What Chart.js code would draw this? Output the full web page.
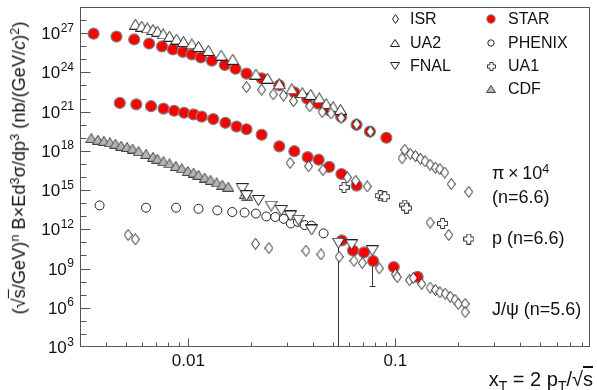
<!DOCTYPE html>
<html>
<head>
<meta charset="utf-8">
<script src="https://cdn.jsdelivr.net/npm/chart.js@4.4.0/dist/chart.umd.min.js"></script>
<style>
  body { margin: 0; background: #fff; }
  #wrap { position: relative; width: 597px; height: 390px; font-family: 'Liberation Sans', Arial, sans-serif; color: #111; }
  #chart { position: absolute; left: 0; top: 0; }
  .t { position: absolute; white-space: nowrap; line-height: 1; transform: translateY(-50%); }
  .leg { font-size: 16px; }
  .note { font-size: 18px; }
  sup { font-size: 0.7em; vertical-align: 0; position: relative; top: -0.5em; }
  sub { font-size: 0.7em; vertical-align: 0; position: relative; top: 0.35em; }
  .ov { text-decoration: overline; }
  #ytitle { position: absolute; left: 19px; top: 168px; font-size: 18.2px; white-space: nowrap; line-height: 1;
            transform: translate(-50%, -50%) rotate(-90deg); }
  #xtitle { position: absolute; right: 4px; top: 369px; font-size: 20px; white-space: nowrap; line-height: 1; }
</style>
</head>
<body>
<div id="wrap">
  <canvas id="chart" width="597" height="390"></canvas>

  <div id="ytitle">(&radic;<span class="ov">s</span>/GeV)<sup>n</sup> B&times;Ed<sup>3</sup>&sigma;/dp<sup>3</sup> (nb/(GeV/<i>c</i>)<sup>2</sup>)</div>
  <div id="xtitle">x<sub>T</sub> = 2 p<sub>T</sub>/&radic;<span class="ov">s</span></div>

  <div class="t leg" style="left:410px; top:19px;">ISR</div>
  <div class="t leg" style="left:410px; top:43px;">UA2</div>
  <div class="t leg" style="left:410px; top:66px;">FNAL</div>
  <div class="t leg" style="left:508px; top:19px;">STAR</div>
  <div class="t leg" style="left:508px; top:43px;">PHENIX</div>
  <div class="t leg" style="left:508px; top:66px;">UA1</div>
  <div class="t leg" style="left:508px; top:89px;">CDF</div>

  <div class="t note" style="left:492px; top:173px;">&pi;&thinsp;&times;&thinsp;10<sup>4</sup></div>
  <div class="t note" style="left:492px; top:197px;">(n=6.6)</div>
  <div class="t note" style="left:492px; top:238px;">p (n=6.6)</div>
  <div class="t note" style="left:492px; top:309px;">J/&psi; (n=5.6)</div>
</div>

<script>
// ---- data ----

// pi x 10^4 (n=6.6)
const starPiX = [0.00349, 0.00450, 0.00548, 0.00647, 0.00747, 0.00843, 0.00942, 0.0104, 0.0115, 0.0130, 0.0150, 0.0169, 0.0191, 0.0226, 0.0275, 0.0325, 0.0375, 0.0424, 0.0479, 0.0547, 0.0649, 0.0753, 0.0904];
const starPiY = [9.1e26, 5.5e26, 3.3e26, 1.6e26, 9.6e25, 5.7e25, 3.7e25, 2.4e25, 1.4e25, 7.8e24, 3.7e24, 1.9e24, 8.1e23, 3.5e23, 1.0e23, 3.0e22, 9.8e21, 4.1e21, 1.3e21, 4.1e20, 9.8e19, 3.0e19, 1.0e19];

const ua2PiX = [0.00555, 0.00596, 0.00634, 0.00675, 0.00710, 0.00756, 0.00811, 0.00878, 0.00948, 0.0104, 0.0112, 0.0125, 0.0144, 0.0164, 0.0212, 0.0241, 0.0275, 0.0316, 0.0355, 0.0390, 0.0429, 0.0463, 0.0500, 0.0543];
const ua2PiY = [4.8e27, 3.4e27, 2.5e27, 1.9e27, 1.4e27, 8.7e26, 5.8e26, 3.5e26, 2.3e26, 1.5e26, 9.6e25, 4.8e25, 2.1e25, 1.0e25, 7.4e23, 3.6e23, 1.3e23, 5.5e22, 2.8e22, 2.1e22, 1.1e22, 4.1e21, 2.4e21, 1.5e21];

const isrPiX = [0.0191, 0.0226, 0.0257, 0.0288, 0.0322, 0.0386, 0.0443, 0.0489, 0.0547, 0.0649, 0.0757, 0.1076, 0.111, 0.118, 0.125, 0.132, 0.139, 0.147, 0.156, 0.164, 0.173, 0.186, 0.226];
const isrPiY = [7.4e22, 4.7e22, 2.1e22, 1.7e22, 6.3e21, 2.6e21, 9.3e20, 7.2e20, 3.3e20, 1.07e20, 3.0e19, 2.7e17, 1.2e18, 5.9e17, 4.0e17, 2.5e17, 1.6e17, 8.7e16, 5.2e16, 4.0e16, 2.2e16, 2.9e15, 7.4e14];

// protons (n=6.6)
const starPX = [0.00467, 0.00561, 0.00661, 0.00759, 0.00854, 0.00954, 0.0106, 0.0116, 0.0132, 0.0151, 0.0171, 0.0191, 0.0226, 0.0275, 0.0325, 0.0377, 0.0426, 0.0479, 0.0549, 0.0650];
const starPY = [4.6e21, 3.6e21, 2.6e21, 1.7e21, 1.16e21, 8.2e20, 6.1e20, 4.1e20, 2.7e20, 1.4e20, 7.2e19, 4.5e19, 1.7e19, 2.2e18, 9.4e17, 3.3e17, 2.1e17, 5.9e16, 1.7e16, 2.2e15];

const isrPX = [0.0310, 0.0381, 0.0447, 0.0586, 0.0643, 0.0731, 0.147, 0.181];
const isrPY = [1.2e17, 6.7e16, 3.4e16, 9.2e15, 5.1e15, 1.9e15, 3.3e12, 3.7e11];

const ua1PX = [0.0565, 0.0845, 0.0888, 0.111, 0.113, 0.169, 0.226];
const ua1PY = [1.6e15, 3.7e14, 3.1e14, 7.1e13, 4.2e13, 2.8e12, 1.8e11];

// J/psi (n=5.6)
const cdfJX = [0.00340, 0.00366, 0.00391, 0.00418, 0.00445, 0.00474, 0.00506, 0.00538, 0.00575, 0.00625, 0.00675, 0.00710, 0.00759, 0.00811, 0.00870, 0.00930, 0.00994, 0.0106, 0.0112, 0.0120, 0.0128, 0.0137, 0.0146, 0.0156, 0.0187, 0.0193];
const cdfJY = [9.5e18, 7.1e18, 5.9e18, 4.5e18, 3.5e18, 2.5e18, 2.0e18, 1.5e18, 9.4e17, 5.9e17, 3.5e17, 2.5e17, 1.6e17, 1.1e17, 7.0e16, 4.6e16, 2.9e16, 2.2e16, 1.5e16, 9.1e15, 6.1e15, 3.8e15, 2.6e15, 1.8e15, 5.0e14, 3.4e14];

const phenixJX = [0.00373, 0.00625, 0.00873, 0.0112, 0.0138, 0.0163, 0.0187, 0.0212, 0.0238, 0.0263, 0.0289, 0.0313, 0.0338, 0.0365, 0.0393, 0.0450];
const phenixJY = [6.7e13, 4.5e13, 4.5e13, 3.7e13, 2.8e13, 2.1e13, 1.9e13, 1.6e13, 9.6e12, 8.8e12, 6.3e12, 2.8e12, 3.7e12, 2.1e12, 1.9e12, 4.9e11];

const fnalJX = [0.0182, 0.0191, 0.0218, 0.0251, 0.0281, 0.0311, 0.0340, 0.0394, 0.0531, 0.0615, 0.0773];
const fnalJY = [1.3e15, 3.7e14, 1.6e14, 6.0e13, 2.8e13, 1.05e13, 5.0e12, 8.9e11, 8.7e10, 6.5e10, 2.3e10];
const fnalJErrLow = [null, null, null, null, null, null, null, null, 1e2, null, 4.7e7];

const isrJX = [0.00512, 0.00555, 0.0211, 0.0245, 0.0370, 0.0437, 0.0535, 0.0631, 0.0692, 0.0836, 0.100, 0.102, 0.117, 0.122, 0.134, 0.147, 0.156, 0.164, 0.174, 0.184, 0.194, 0.201, 0.217, 0.217];
const isrJY = [3.7e11, 1.7e11, 7.8e10, 3.6e10, 2.3e10, 1.2e10, 7.9e9, 3.9e9, 2.7e9, 1.02e9, 3.6e8, 2.2e8, 1.3e8, 1.9e8, 6.6e7, 3.5e7, 2.3e7, 1.5e7, 1.2e7, 6.9e6, 4.1e6, 2.0e6, 2.0e6, 4.6e5];

const starJX = [0.0551, 0.0624, 0.0705, 0.0781, 0.0982, 0.128];
const starJY = [1.4e11, 2.4e10, 1.7e10, 3.7e9, 1.3e9, 2.3e8];

// axes
const xMin = 0.003, xMax = 0.87;
const yMinExp = 3, yMaxExp = 29;
const xTickLabels = [[0.01, '0.01'], [0.1, '0.1']];
const yLabelExps = [3, 6, 9, 12, 15, 18, 21, 24, 27];

// ---- marker images ----
function mk(w, h, fn) {
    const c = document.createElement('canvas');
    c.width = w; c.height = h;
    const g = c.getContext('2d');
    g.lineWidth = 1;
    fn(g, w, h);
    return c;
}
function poly(g, pts, fill, stroke) {
    g.beginPath();
    pts.forEach((p, i) => i ? g.lineTo(p[0], p[1]) : g.moveTo(p[0], p[1]));
    g.closePath();
    g.fillStyle = fill; g.fill();
    g.strokeStyle = stroke; g.stroke();
}
function diamondMark(w, h) {
    return mk(w, h, g => poly(g, [[w / 2, 0.5], [w - 0.5, h / 2], [w / 2, h - 0.5], [0.5, h / 2]], '#fff', '#222'));
}
function triMark(w, h, up, fill, stroke) {
    return mk(w, h, g => poly(g, up
        ? [[w / 2, 0.5], [w - 0.5, h - 0.5], [0.5, h - 0.5]]
        : [[0.5, 0.5], [w - 0.5, 0.5], [w / 2, h - 0.5]], fill, stroke));
}
function plusMark(s, a) {
    const c = s / 2, e = 0.5, f = s - 0.5;
    return mk(s, s, g => poly(g, [[c - a, e], [c + a, e], [c + a, c - a], [f, c - a], [f, c + a], [c + a, c + a],
        [c + a, f], [c - a, f], [c - a, c + a], [e, c + a], [e, c - a], [c - a, c - a]], '#fff', '#333'));
}

const mDiamond = diamondMark(9, 12);
const mUp = triMark(13, 11, true, '#fff', '#222');
const mDown = triMark(13, 11, false, '#fff', '#222');
const mCdf = triMark(12, 10, true, '#b4b4b4', '#444');
const mPlus = plusMark(11, 2);

const lDiamond = diamondMark(7, 10);
const lUp = triMark(10, 8, true, '#fff', '#222');
const lDown = triMark(10, 8, false, '#fff', '#222');
const lCdf = triMark(10, 8, true, '#b4b4b4', '#444');
const lPlus = plusMark(9, 1.6);

function pts(xs, ys) {
    return xs.map((x, i) => ({ x: x, y: ys[i] }));
}
function imgSet(xs, ys, img) {
    return { data: pts(xs, ys), pointStyle: img, pointRadius: 6, showLine: false };
}
function circleSet(xs, ys, r, fill, stroke, bw) {
    return { data: pts(xs, ys), pointStyle: 'circle', pointRadius: r, backgroundColor: fill,
             borderColor: stroke, borderWidth: bw, showLine: false };
}

// first dataset is drawn on top
const datasets = [
    imgSet(isrPiX, isrPiY, mDiamond),
    imgSet(isrPX, isrPY, mDiamond),
    imgSet(isrJX, isrJY, mDiamond),
    imgSet(ua2PiX, ua2PiY, mUp),
    imgSet(fnalJX, fnalJY, mDown),
    imgSet(ua1PX, ua1PY, mPlus),
    circleSet(phenixJX, phenixJY, 4.5, '#fff', '#222', 1),
    imgSet(cdfJX, cdfJY, mCdf),
    circleSet(starPiX, starPiY, 5.5, '#ff0000', '#808080', 1.2),
    circleSet(starPX, starPY, 5.5, '#ff0000', '#808080', 1.2),
    circleSet(starJX, starJY, 5.5, '#ff0000', '#808080', 1.2)
];
const FNAL_INDEX = 4;

const legendItems = [
    { x: 395, y: 19, img: lDiamond },
    { x: 395, y: 43, img: lUp },
    { x: 395, y: 66, img: lDown },
    { x: 491, y: 19, circle: [4.2, '#ff0000', '#808080'] },
    { x: 491, y: 43, circle: [3.2, '#fff', '#222'] },
    { x: 491, y: 66, img: lPlus },
    { x: 491, y: 89, img: lCdf }
];

const decor = {
    id: 'decor',
    beforeDatasetsDraw(chart) {
        // FNAL error bars (lower side)
        const ctx = chart.ctx, area = chart.chartArea, ys = chart.scales.y;
        const meta = chart.getDatasetMeta(FNAL_INDEX);
        ctx.save();
        ctx.beginPath();
        ctx.rect(area.left, area.top, area.right - area.left, area.bottom - area.top);
        ctx.clip();
        ctx.strokeStyle = '#333';
        ctx.lineWidth = 1;
        fnalJErrLow.forEach((lo, i) => {
            if (lo === null) return;
            const p = meta.data[i];
            const yb = ys.getPixelForValue(lo);
            const x = Math.round(p.x) + 0.5;
            ctx.beginPath();
            ctx.moveTo(x, p.y);
            ctx.lineTo(x, yb);
            ctx.moveTo(x - 3, Math.round(yb) + 0.5);
            ctx.lineTo(x + 3, Math.round(yb) + 0.5);
            ctx.stroke();
        });
        ctx.restore();
    },
    afterDraw(chart) {
        const ctx = chart.ctx, a = chart.chartArea;
        const xs = chart.scales.x, ys = chart.scales.y;
        ctx.save();
        ctx.strokeStyle = '#555';
        ctx.lineWidth = 1;
        ctx.strokeRect(Math.round(a.left) + 0.5, Math.round(a.top) + 0.5,
                       Math.round(a.right - a.left) - 1, Math.round(a.bottom - a.top) - 1);

        // inner ticks on x
        const yb = Math.round(a.bottom) - 0.5;
        ctx.beginPath();
        for (let d = -3; d <= 0; d++) {
            for (let m = 1; m <= 9; m++) {
                const v = m * Math.pow(10, d);
                if (v <= xMin || v >= xMax) continue;
                const px = Math.round(xs.getPixelForValue(v)) + 0.5;
                const len = m === 1 ? 8 : 4;
                ctx.moveTo(px, yb);
                ctx.lineTo(px, yb - len);
            }
        }
        // inner ticks on y
        const xl = Math.round(a.left) + 0.5;
        for (let e = yMinExp + 1; e < yMaxExp; e++) {
            const py = Math.round(ys.getPixelForValue(Math.pow(10, e))) + 0.5;
            const len = e % 3 === 0 ? 10 : 6;
            ctx.moveTo(xl, py);
            ctx.lineTo(xl + len, py);
        }
        ctx.stroke();

        // tick labels
        ctx.fillStyle = '#111';
        ctx.textAlign = 'center';
        ctx.textBaseline = 'alphabetic';
        ctx.font = "17px 'Liberation Sans', Arial, sans-serif";
        xTickLabels.forEach(([v, s]) => {
            ctx.fillText(s, xs.getPixelForValue(v), 366);
        });
        yLabelExps.forEach(e => {
            const py = ys.getPixelForValue(Math.pow(10, e));
            const ex = String(e);
            ctx.font = "12px 'Liberation Sans', Arial, sans-serif";
            const ew = ctx.measureText(ex).width;
            ctx.textAlign = 'left';
            ctx.fillText(ex, 74 - ew, py - 1.5);
            ctx.font = "17px 'Liberation Sans', Arial, sans-serif";
            ctx.textAlign = 'right';
            ctx.fillText('10', 74 - ew - 0.5, py + 6);
        });

        // legend markers
        legendItems.forEach(it => {
            if (it.img) {
                ctx.drawImage(it.img, Math.round(it.x - it.img.width / 2), Math.round(it.y - it.img.height / 2));
            } else {
                ctx.beginPath();
                ctx.arc(it.x, it.y, it.circle[0], 0, Math.PI * 2);
                ctx.fillStyle = it.circle[1];
                ctx.fill();
                ctx.strokeStyle = it.circle[2];
                ctx.stroke();
            }
        });
        ctx.restore();
    }
};

new Chart(document.getElementById('chart'), {
    type: 'scatter',
    data: { datasets: datasets },
    options: {
        responsive: false,
        animation: false,
        devicePixelRatio: 1,
        layout: { padding: { top: 2, right: 4, left: 0, bottom: 0 } },
        plugins: { legend: { display: false }, tooltip: { enabled: false } },
        scales: {
            x: {
                type: 'logarithmic', min: xMin, max: xMax,
                grid: { display: false }, border: { display: false },
                ticks: { display: false },
                afterFit: s => { s.height = 43; }
            },
            y: {
                type: 'logarithmic', min: Math.pow(10, yMinExp), max: Math.pow(10, yMaxExp),
                grid: { display: false }, border: { display: false },
                ticks: { display: false },
                afterFit: s => { s.width = 80; }
            }
        }
    },
    plugins: [decor]
});
</script>
</body>
</html>
